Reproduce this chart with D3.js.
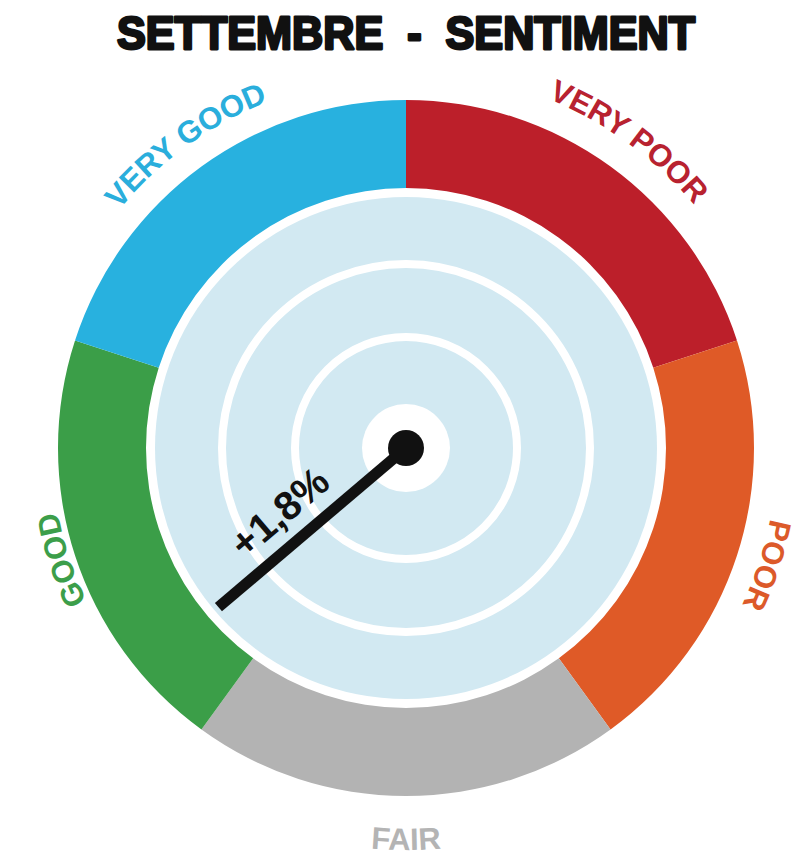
<!DOCTYPE html>
<html>
<head>
<meta charset="utf-8">
<script src="https://cdn.jsdelivr.net/npm/d3@7"></script>
<style>
  html, body { margin: 0; padding: 0; background: #ffffff; }
  svg { display: block; }
  text { font-family: "Liberation Sans", Arial, Helvetica, sans-serif; font-weight: bold; }
</style>
</head>
<body>
<svg id="chart" width="804" height="854"></svg>
<script>
// ---- data ----
const title = "SETTEMBRE  -  SENTIMENT";
const categories = ["VERY POOR", "POOR", "FAIR", "GOOD", "VERY GOOD"];
const segmentValues = [1, 1, 1, 1, 1];
const segmentColors = ["#bc1f2a", "#df5a27", "#b3b3b3", "#3b9e48", "#28b1df"];
const labelColors = ["#b82230", "#dc5a2a", "#b4b4b4", "#3c9e4a", "#2aaedc"];
const needleValue = 3.19;          // position on the 0..5 sentiment scale
const needleLabel = "+1,8%";
const scaleDomain = [0, 5];

// ---- layout ----
const cx = 406, cy = 448;
const ringOuter = 348, ringInner = 260;
const diskR = 251;
const gridRadii = [111, 184];
const hubWhiteR = 44, hubR = 18;
const needleLen = 246;
const labelRadii = [377, 371, 402, 354, 373];   // baseline radius of each ring label

const svg = d3.select("#chart");

// title
svg.append("text")
  .attr("x", 406).attr("y", 49)
  .attr("text-anchor", "middle")
  .attr("font-size", 46)
  .attr("fill", "#111")
  .attr("stroke", "#111").attr("stroke-width", 2.8)
  .attr("stroke-linejoin", "round")
  .attr("textLength", 578).attr("lengthAdjust", "spacingAndGlyphs")
  .style("white-space", "pre")
  .text(title);

const g = svg.append("g").attr("transform", `translate(${cx},${cy})`);

// ring segments
const pie = d3.pie().sort(null).value(d => d).startAngle(0).endAngle(2 * Math.PI);
const arcs = pie(segmentValues);
const arcGen = d3.arc().innerRadius(ringInner).outerRadius(ringOuter);
const color = d3.scaleOrdinal().domain(categories).range(segmentColors);
const lcolor = d3.scaleOrdinal().domain(categories).range(labelColors);

g.selectAll("path.seg")
  .data(arcs)
  .join("path")
  .attr("class", "seg")
  .attr("d", arcGen)
  .attr("fill", (d, i) => color(categories[i]));

// labels along arcs
const defs = svg.append("defs");
arcs.forEach((d, i) => {
  const mid = (d.startAngle + d.endAngle) / 2;
  const flip = mid > Math.PI * 0.75 && mid < Math.PI * 1.25;
  const r = labelRadii[i];
  const p = d3.path();
  if (flip) {
    p.arc(0, 0, r, d.endAngle - Math.PI / 2, d.startAngle - Math.PI / 2, true);
  } else {
    p.arc(0, 0, r, d.startAngle - Math.PI / 2, d.endAngle - Math.PI / 2, false);
  }
  defs.append("path").attr("id", "lp" + i).attr("d", p.toString());
  g.append("text")
    .attr("font-size", 31)
    .attr("fill", lcolor(categories[i]))
    .append("textPath")
    .attr("href", "#lp" + i)
    .attr("startOffset", "50%")
    .attr("text-anchor", "middle")
    .text(categories[i]);
});

// inner disk and grid circles
g.append("circle").attr("r", diskR).attr("fill", "#d2e9f2");
g.selectAll("circle.grid")
  .data(gridRadii)
  .join("circle")
  .attr("class", "grid")
  .attr("r", d => d)
  .attr("fill", "none")
  .attr("stroke", "#ffffff")
  .attr("stroke-width", 8);
g.append("circle").attr("r", hubWhiteR).attr("fill", "#ffffff");

// needle
const angle = d3.scaleLinear().domain(scaleDomain).range([0, 2 * Math.PI]);
const a = angle(needleValue);
const tip = [needleLen * Math.sin(a), -needleLen * Math.cos(a)];
g.append("line")
  .attr("x1", 0).attr("y1", 0)
  .attr("x2", tip[0]).attr("y2", tip[1])
  .attr("stroke", "#111").attr("stroke-width", 11);
g.append("circle").attr("r", hubR).attr("fill", "#111");

// needle label
const deg = a * 180 / Math.PI;
const along = 138;
const lx = along * Math.sin(a), ly = -along * Math.cos(a);
g.append("text")
  .attr("transform", `translate(${lx},${ly}) rotate(${deg + 90})`)
  .attr("text-anchor", "middle")
  .attr("dy", -19)
  .attr("font-size", 40)
  .attr("fill", "#111")
  .text(needleLabel);
</script>
</body>
</html>
